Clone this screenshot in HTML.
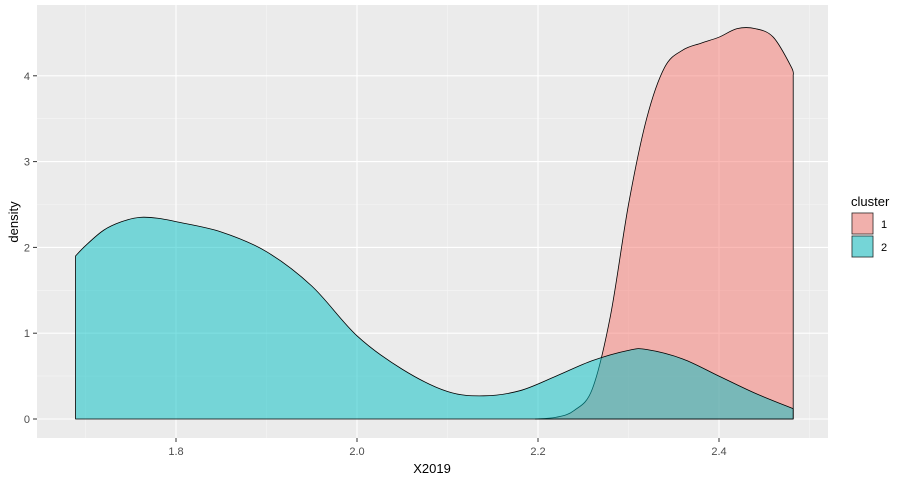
<!DOCTYPE html>
<html><head><meta charset="utf-8"><style>
body{margin:0;background:#fff;font-family:"Liberation Sans",Arial,sans-serif;}
svg{display:block}
</style></head><body>
<svg id="chart" width="909" height="484">
<rect x="37" y="5" width="791" height="433" fill="#ebebeb"/>
<g id="grid"></g>
<g id="areas"></g>
<g id="axes"></g>
<text x="432" y="473" text-anchor="middle" font-size="13" fill="#000">X2019</text>
<text transform="translate(18,222) rotate(-90)" text-anchor="middle" font-size="13" fill="#000">density</text>
<g>
<text x="851" y="206" font-size="13" fill="#000">cluster</text>
<rect x="851" y="212" width="23" height="23" fill="#ebebeb"/>
<rect x="852" y="213" width="21" height="21" fill="#F8766D" fill-opacity="0.5" stroke="#000" stroke-width="0.6"/>
<rect x="851" y="235" width="23" height="23" fill="#ebebeb"/>
<rect x="852" y="236" width="21" height="21" fill="#00BFC4" fill-opacity="0.5" stroke="#000" stroke-width="0.6"/>
<text x="881" y="228" font-size="11" fill="#000">1</text>
<text x="881" y="251" font-size="11" fill="#000">2</text>
</g>
</svg>
<script>
const xTicks=[1.8,2.0,2.2,2.4];
const xTickLabels=["1.8","2.0","2.2","2.4"];
const yTicks=[0,1,2,3,4];
const yTickLabels=["0","1","2","3","4"];
const c1X=[2.197,2.22,2.24,2.26,2.28,2.30,2.32,2.34,2.36,2.38,2.40,2.42,2.44,2.46,2.48,2.482];
const c1Y=[0,0.02,0.1,0.35,1.2,2.5,3.5,4.1,4.3,4.38,4.45,4.55,4.55,4.45,4.1,4.0];
const c2X=[1.689,1.70,1.72,1.74,1.76,1.78,1.80,1.85,1.90,1.95,2.0,2.05,2.10,2.14,2.18,2.22,2.26,2.30,2.32,2.36,2.40,2.44,2.482];
const c2Y=[1.9,2.02,2.2,2.3,2.35,2.34,2.3,2.18,1.95,1.55,0.97,0.58,0.32,0.27,0.33,0.5,0.68,0.8,0.81,0.7,0.5,0.3,0.12];
const NS="http://www.w3.org/2000/svg";
function sx(v){return 176+(v-1.8)*905;}
function sy(v){return 419-v*85.8;}
function mk(tag,attrs,parent){const e=document.createElementNS(NS,tag);for(const k in attrs)e.setAttribute(k,attrs[k]);parent.appendChild(e);return e;}
const grid=document.getElementById('grid'),axes=document.getElementById('axes'),areas=document.getElementById('areas');
[1.7,1.9,2.1,2.3,2.5].forEach(v=>{const x=sx(v);if(x<828){const l=mk('line',{x1:x,x2:x,y1:5,y2:438,stroke:'#f5f5f5','stroke-width':0.6},grid);

}});
[0.5,1.5,2.5,3.5].forEach(v=>{const y=sy(v);const l=mk('line',{x1:37,x2:828,y1:y,y2:y,stroke:'#f5f5f5','stroke-width':0.6},grid);

});
xTicks.forEach((v,i)=>{const x=sx(v);const l=mk('line',{x1:x,x2:x,y1:5,y2:438,stroke:'#fff','stroke-width':1.1},grid);


const t=mk('line',{x1:x,x2:x,y1:438,y2:442,stroke:'#333','stroke-width':1},axes);


const tx=mk('text',{x:x,y:455,'text-anchor':'middle','font-size':11,fill:'#4d4d4d'},axes);tx.textContent=xTickLabels[i];

});
yTicks.forEach((v,i)=>{const y=sy(v);const l=mk('line',{x1:37,x2:828,y1:y,y2:y,stroke:'#fff','stroke-width':1.1},grid);


const t=mk('line',{x1:33,x2:37,y1:y,y2:y,stroke:'#333','stroke-width':1},axes);


const tx=mk('text',{x:30,y:y+4,'text-anchor':'end','font-size':11,fill:'#4d4d4d'},axes);tx.textContent=yTickLabels[i];

});
function area(xs,ys,color,name){
const P=xs.map((x,i)=>[sx(x),sy(ys[i])]);
let d='M'+P[0][0]+','+sy(0)+' L'+P[0][0]+','+P[0][1];
for(let i=0;i<P.length-1;i++){
const p0=P[Math.max(0,i-1)],p1=P[i],p2=P[i+1],p3=P[Math.min(P.length-1,i+2)];
const c1=[p1[0]+(p2[0]-p0[0])/6,p1[1]+(p2[1]-p0[1])/6];
const c2=[p2[0]-(p3[0]-p1[0])/6,p2[1]-(p3[1]-p1[1])/6];
d+=' C'+c1[0]+','+c1[1]+' '+c2[0]+','+c2[1]+' '+p2[0]+','+p2[1];}
d+=' L'+P[P.length-1][0]+','+sy(0)+' Z';
const p=mk('path',{d:d,fill:color,'fill-opacity':0.5,stroke:'#000','stroke-width':0.8,'stroke-linejoin':'round'},areas);

}
area(c1X,c1Y,'#F8766D','density-cluster-1');
area(c2X,c2Y,'#00BFC4','density-cluster-2');
</script>
</body></html>
